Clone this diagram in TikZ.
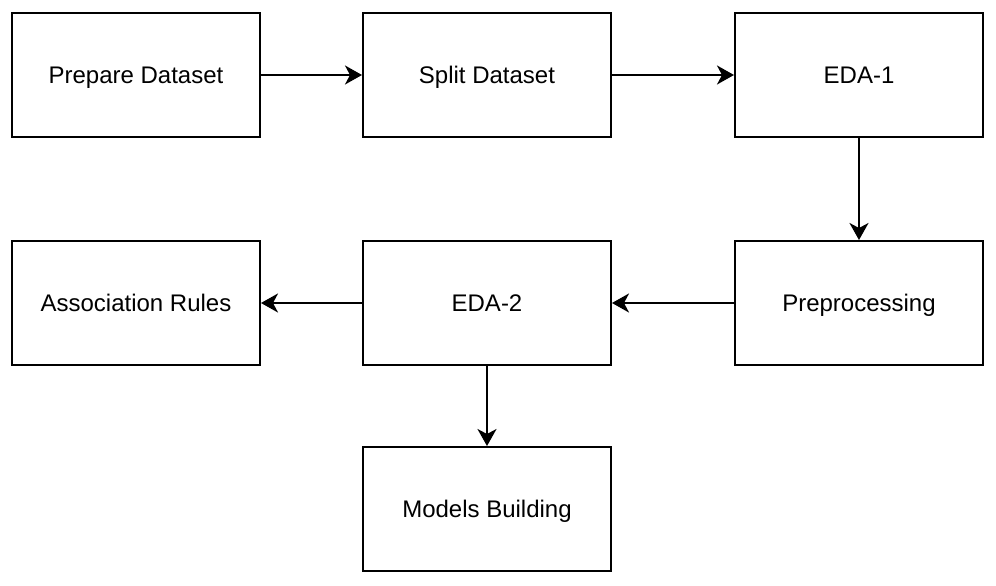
\documentclass[tikz,border=0pt]{standalone}
\usepackage{fontspec}
\setmainfont{Liberation Sans}
\usetikzlibrary{arrows.meta}
\begin{document}
\begin{tikzpicture}[x=1pt,y=-1pt,
  box/.style={draw=black,line width=2pt,minimum width=248pt,minimum height=124pt,inner sep=0pt,text height=16.4pt,text depth=0pt,font=\fontsize{24}{28}\selectfont},
  conn/.style={line width=2pt,-{Stealth[length=17pt,width=19pt,inset=5pt]}}]
\useasboundingbox (0,0) rectangle (996,586);
\node[box] (prep) at (136,75) {Prepare Dataset};
\node[box] (split) at (487,75) {Split Dataset};
\node[box] (eda1) at (859,75) {EDA-1};
\node[box] (assoc) at (136,303) {Association Rules};
\node[box] (eda2) at (487,303) {EDA-2};
\node[box] (pre) at (859,303) {Preprocessing};
\node[box] (models) at (487,509) {Models Building};
\draw[conn] (prep) -- (split);
\draw[conn] (split) -- (eda1);
\draw[conn] (eda1) -- (pre);
\draw[conn] (pre) -- (eda2);
\draw[conn] (eda2) -- (assoc);
\draw[conn] (eda2) -- (models);
\end{tikzpicture}
\end{document}
